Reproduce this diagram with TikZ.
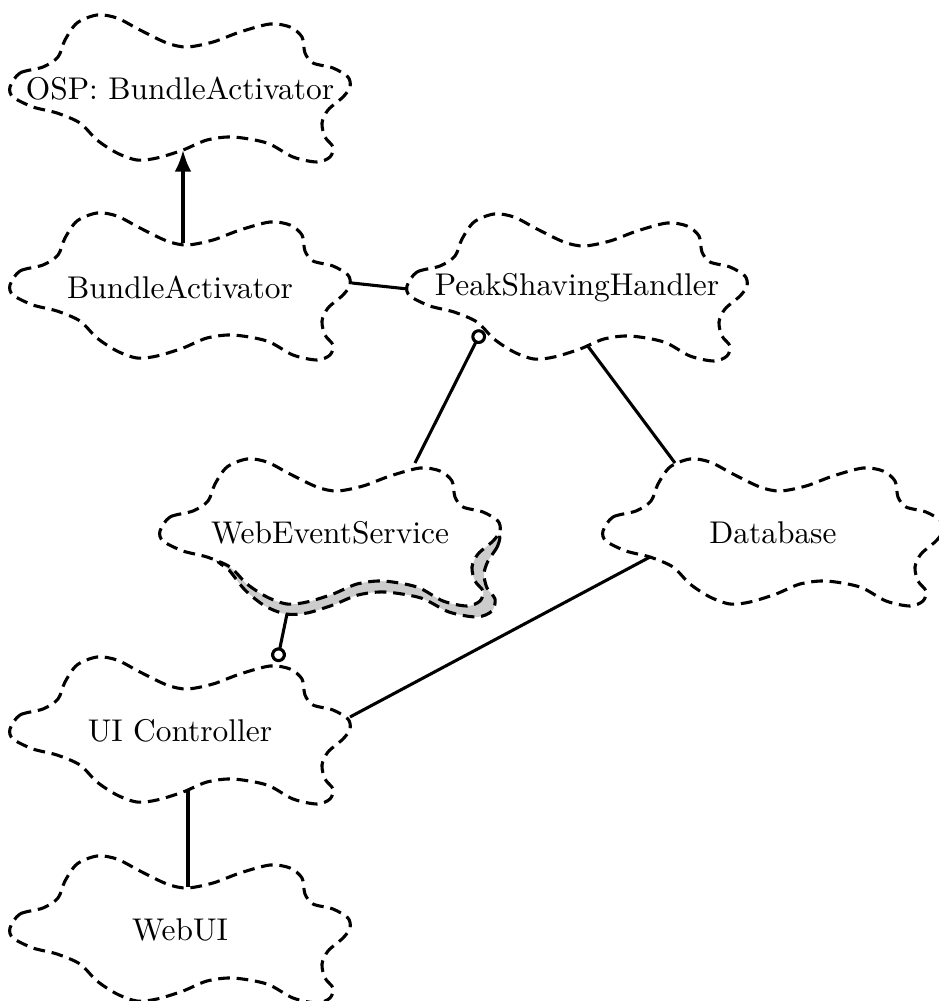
\documentclass[tikz,border=0pt]{standalone}
\usetikzlibrary{arrows.meta,calc}
\tikzset{
  pics/blob/.style={code={\path[pic actions] plot[smooth cycle] coordinates {
    (-170,-2) (-160,-16) (-137,-22) (-122,-32) (-115,-49) (-103,-66) (-83,-74)
    (-63,-71) (-40,-59) (-13,-46) (7,-42) (33,-47) (60,-57) (90,-65) (110,-62)
    (122,-52) (125,-36) (133,-26) (153,-21) (168,-12) (170,-2) (163,8) (148,21)
    (142,34) (145,48) (153,58) (150,68) (137,73) (113,68) (87,54) (53,48) (27,51)
    (3,61) (-23,69) (-43,71) (-63,64) (-83,51) (-100,34) (-123,24) (-147,18) (-167,8)
  };}},
  pics/blobshadow/.style={code={\path[pic actions] plot[smooth cycle] coordinates {
    (166,0) (168,12) (158,28) (154,41) (157,55) (165,66) (162,78) (147,84)
    (119,79) (91,65) (55,59) (28,62) (3,72) (-23,80) (-44,81) (-65,73) (-85,57)
    (-101,37) (-112,27) (-90,15) (0,5) (120,0)
  };}},
  blobline/.style={draw=black, line width=1pt, dash pattern=on 3.8pt off 2.2pt},
  blobtext/.style={inner sep=0pt, font=\fontsize{10.2}{12}\selectfont},
  conn/.style={line width=1pt},
  circtip/.style={-{Circle[fill=white, length=4.8pt, line width=1pt]}},
}
\begin{document}
\begin{tikzpicture}[x=0.3247pt, y=-0.3247pt]
\useasboundingbox (0,0) rectangle (939,1001);
% shadow band behind WebEventService
\pic[blobline, fill=gray!40] at (330,533) {blobshadow};
% blobs
\pic[blobline, fill=white] at (180,89)  {blob};
\pic[blobline, fill=white] at (180,287) {blob};
\pic[blobline, fill=white] at (577,288) {blob};
\pic[blobline, fill=white] at (330,533) {blob};
\pic[blobline, fill=white] at (773,533) {blob};
\pic[blobline, fill=white] at (180,731) {blob};
\pic[blobline, fill=white] at (180,930) {blob};
% texts
\node[blobtext] (osp) at (180,89)  {OSP: BundleActivator};
\node[blobtext] (ba)  at (180,287) {BundleActivator};
\node[blobtext] (psh) at (577,288) {PeakShavingHandler};
\node[blobtext] (wes) at (330,533) {WebEventService};
\node[blobtext] (db)  at (773,533) {Database};
\node[blobtext] (ui)  at (180,731) {UI Controller};
\node[blobtext] (wui) at (180,930) {WebUI};
% connection points on the outlines
\coordinate (ba-n)   at ($(ba)+(3,-44)$);
\coordinate (osp-s)  at ($(osp)+(3,61)$);
\coordinate (ba-e)   at ($(ba)+(172,-4)$);
\coordinate (psh-w)  at ($(psh)+(-169,1)$);
\coordinate (wes-n)  at ($(wes)+(85,-70)$);
\coordinate (psh-sw) at ($(psh)+(-95,42)$);
\coordinate (psh-s)  at ($(psh)+(10,57)$);
\coordinate (db-nw)  at ($(db)+(-98,-70)$);
\coordinate (db-w)   at ($(db)+(-123,24)$);
\coordinate (ui-e)   at ($(ui)+(170,-14)$);
\coordinate (wes-s)  at ($(wes)+(-43,81)$);
\coordinate (ui-n)   at ($(ui)+(97,-69)$);
\coordinate (ui-s)   at ($(ui)+(8,59)$);
\coordinate (wui-n)  at ($(wui)+(8,-43)$);
% connectors
\draw[conn, -{Latex[length=7pt, width=5.4pt]}] (ba-n) -- (osp-s);
\draw[conn] (ba-e) -- (psh-w);
\draw[conn, circtip] (wes-n) -- (psh-sw);
\draw[conn] (psh-s) -- (db-nw);
\draw[conn] (db-w) -- (ui-e);
\draw[conn, circtip] (wes-s) -- (ui-n);
\draw[conn] (ui-s) -- (wui-n);
\end{tikzpicture}
\end{document}
